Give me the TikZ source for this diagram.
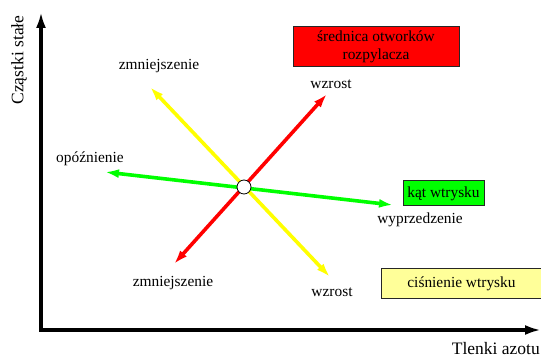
\documentclass[tikz,border=0pt]{standalone}
\usepackage{fontspec}
\setmainfont{Liberation Serif}
\usetikzlibrary{arrows.meta}
\definecolor{boxyellow}{RGB}{255,255,153}
\definecolor{limegreen}{RGB}{0,255,0}
\definecolor{purered}{RGB}{255,0,0}
\definecolor{pureyellow}{RGB}{255,255,0}
\begin{document}
\begin{tikzpicture}[x=1pt,y=-1pt,
  lbl/.style={font=\fontsize{15.4}{17}\selectfont, inner sep=0pt},
  axlbl/.style={font=\fontsize{17.5}{20}\selectfont, inner sep=0pt},
  boxnode/.style={draw=black!85, line width=1pt, inner sep=0pt, align=center, font=\fontsize{15.4}{18}\selectfont},
  dblarrow/.style={line width=3.6pt, {Latex[length=14pt,width=9pt]}-{Latex[length=14pt,width=9pt]}},
  axisline/.style={line width=4pt, line join=miter, {Latex[length=16pt,width=10pt]}-{Latex[length=16pt,width=10pt]}}
]
\useasboundingbox (0,0) rectangle (541,358);
\clip (0,0) rectangle (541,358);
\fill[white] (0,0) rectangle (541,358);

% axes
\coordinate (o) at (41,330);
\coordinate (yt) at (41,12);
\coordinate (xt) at (541,330);
\draw[axisline] (yt) -- (o) -- (xt);
\node[axlbl, rotate=90] (ylab) at (19,60) {Cząstki stałe};
\node[axlbl, anchor=base east] (xlab) at (540,354) {Tlenki azotu};

% arrow endpoints
\coordinate (r1) at (174,264);
\coordinate (r2) at (327,94);
\coordinate (y1) at (150,87);
\coordinate (y2) at (330,277);
\coordinate (g1) at (105,172);
\coordinate (g2) at (393,205);

\draw[dblarrow, draw=pureyellow, fill=pureyellow] (y1) -- (y2);
\draw[dblarrow, draw=purered, fill=purered] (r1) -- (r2);
\draw[dblarrow, draw=limegreen, fill=limegreen] (g1) -- (g2);

\node[circle, draw=black, line width=0.8pt, fill=white, minimum size=14pt, inner sep=0pt] (c) at (244,187) {};

% labels
\node[lbl] (l1) at (159,66) {zmniejszenie};
\node[lbl] (l2) at (331,84) {wzrost};
\node[lbl] (l3) at (90,159) {opóźnienie};
\node[lbl] (l4) at (420,220) {wyprzedzenie};
\node[lbl] (l5) at (173,283) {zmniejszenie};
\node[lbl] (l6) at (332,292) {wzrost};

% boxes
\node[boxnode, fill=purered, minimum width=166pt, minimum height=40pt] (b1) at (376,47) {średnica otworków\\rozpylacza};
\node[boxnode, fill=limegreen, minimum width=81pt, minimum height=25pt] (b2) at (443.5,193.5) {kąt wtrysku};
\node[boxnode, fill=boxyellow, minimum width=161pt, minimum height=29pt] (b3) at (461.5,283.5) {ciśnienie wtrysku};
\end{tikzpicture}
\end{document}
